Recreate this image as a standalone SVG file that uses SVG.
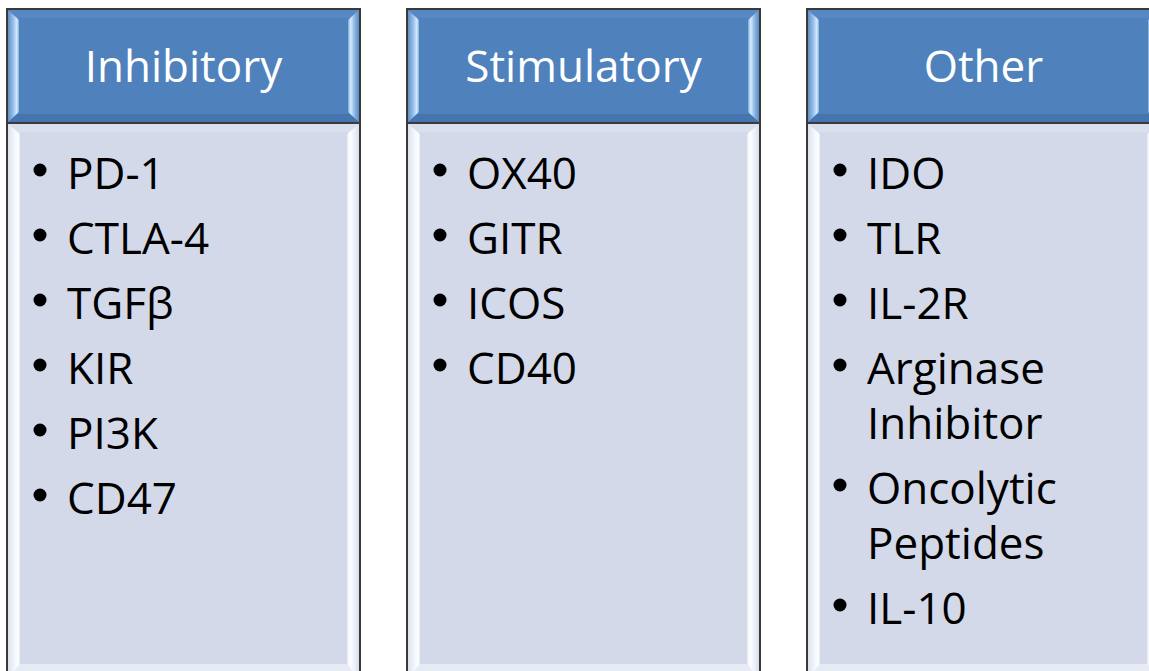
<svg xmlns="http://www.w3.org/2000/svg" xmlns:xlink="http://www.w3.org/1999/xlink" width="1149" height="671" viewBox="0 0 1149 671">
  <style>
    .outline { fill: none; stroke: #3a3a3a; stroke-width: 2; }
    .head-fill { fill: #4f81bd; }
    .body-fill { fill: #d3d9e8; }
    .title { font-family: "Open Sans", "Liberation Sans", sans-serif; font-size: 44px; fill: #ffffff; text-anchor: middle; }
    .item { font-family: "Open Sans", "Liberation Sans", sans-serif; font-size: 44px; fill: #000000; }
    .dot { fill: #000000; }
  </style>
  <defs>
    <!-- bevel faces for the blue header -->
    <linearGradient id="hL" x1="0" y1="0" x2="1" y2="0">
      <stop offset="0" stop-color="#5686c1"/>
      <stop offset="0.55" stop-color="#9dc3ec"/>
      <stop offset="0.82" stop-color="#d4ecff"/>
      <stop offset="1" stop-color="#7ea9dc"/>
    </linearGradient>
    <linearGradient id="hR" x1="1" y1="0" x2="0" y2="0">
      <stop offset="0" stop-color="#4f80bb"/>
      <stop offset="0.45" stop-color="#8db6e4"/>
      <stop offset="0.78" stop-color="#d4ecff"/>
      <stop offset="1" stop-color="#7ea9dc"/>
    </linearGradient>
    <!-- bevel faces for the pale body -->
    <linearGradient id="bL" x1="0" y1="0" x2="1" y2="0">
      <stop offset="0" stop-color="#d9dfec"/>
      <stop offset="0.55" stop-color="#f2f5fb"/>
      <stop offset="0.85" stop-color="#ffffff"/>
      <stop offset="1" stop-color="#e4e9f3"/>
    </linearGradient>
    <linearGradient id="bR" x1="1" y1="0" x2="0" y2="0">
      <stop offset="0" stop-color="#d3d9e8"/>
      <stop offset="0.45" stop-color="#eef2f9"/>
      <stop offset="0.8" stop-color="#ffffff"/>
      <stop offset="1" stop-color="#e4e9f3"/>
    </linearGradient>

    <!-- one column panel: header block and list block, drawn at x = 0 -->
    <g id="panel">
      <!-- header -->
      <rect class="head-fill" x="0" y="9" width="353" height="114"/>
      <polygon points="0,9 353,9 344,18 9,18" fill="#5888c3"/>
      <polygon points="0,123 353,123 344,114 9,114" fill="#4674af"/>
      <polygon points="0,9 12,20 12,112 0,123" fill="url(#hL)"/>
      <polygon points="353,9 341,20 341,112 353,123" fill="url(#hR)"/>
      <rect class="outline" x="0" y="9" width="353" height="114"/>
      <!-- body -->
      <rect class="body-fill" x="0" y="123" width="353" height="556"/>
      <polygon points="0,123 353,123 344,132 9,132" fill="#d9dfec"/>
      <polygon points="0,679 353,679 342,664 11,664" fill="#e6ebf4"/>
      <polygon points="0,123 13,134 13,664 0,679" fill="url(#bL)"/>
      <polygon points="353,123 340,134 340,664 353,679" fill="url(#bR)"/>
      <rect class="outline" x="0" y="123" width="353" height="556"/>
    </g>
  </defs>

  <!-- Inhibitory -->
  <g id="inhibitory">
    <use xlink:href="#panel" href="#panel" x="7" y="0"/>
    <text class="title" x="183.5" y="82">Inhibitory</text>
    <circle class="dot" cx="40" cy="170" r="6.5"/>
    <text class="item" x="67" y="189">PD-1</text>
    <circle class="dot" cx="40" cy="235" r="6.5"/>
    <text class="item" x="67" y="254">CTLA-4</text>
    <circle class="dot" cx="40" cy="300" r="6.5"/>
    <text class="item" x="67" y="319">TGFβ</text>
    <circle class="dot" cx="40" cy="365" r="6.5"/>
    <text class="item" x="67" y="384">KIR</text>
    <circle class="dot" cx="40" cy="430" r="6.5"/>
    <text class="item" x="67" y="449">PI3K</text>
    <circle class="dot" cx="40" cy="495" r="6.5"/>
    <text class="item" x="67" y="514">CD47</text>
  </g>

  <!-- Stimulatory -->
  <g id="stimulatory">
    <use xlink:href="#panel" href="#panel" x="407" y="0"/>
    <text class="title" x="583.5" y="82">Stimulatory</text>
    <circle class="dot" cx="440" cy="170" r="6.5"/>
    <text class="item" x="467" y="189">OX40</text>
    <circle class="dot" cx="440" cy="235" r="6.5"/>
    <text class="item" x="467" y="254">GITR</text>
    <circle class="dot" cx="440" cy="300" r="6.5"/>
    <text class="item" x="467" y="319">ICOS</text>
    <circle class="dot" cx="440" cy="365" r="6.5"/>
    <text class="item" x="467" y="384">CD40</text>
  </g>

  <!-- Other -->
  <g id="other">
    <use xlink:href="#panel" href="#panel" x="807" y="0"/>
    <text class="title" x="983.5" y="82">Other</text>
    <circle class="dot" cx="840" cy="170" r="6.5"/>
    <text class="item" x="867" y="189">IDO</text>
    <circle class="dot" cx="840" cy="235" r="6.5"/>
    <text class="item" x="867" y="254">TLR</text>
    <circle class="dot" cx="840" cy="300" r="6.5"/>
    <text class="item" x="867" y="319">IL-2R</text>
    <circle class="dot" cx="840" cy="365" r="6.5"/>
    <text class="item" x="867" y="384">Arginase</text>
    <text class="item" x="867" y="439">Inhibitor</text>
    <circle class="dot" cx="840" cy="485" r="6.5"/>
    <text class="item" x="867" y="504">Oncolytic</text>
    <text class="item" x="867" y="559">Peptides</text>
    <circle class="dot" cx="840" cy="605" r="6.5"/>
    <text class="item" x="867" y="624">IL-10</text>
  </g>

  <!-- no connectors between the columns -->
  <g id="connectors"/>
</svg>
